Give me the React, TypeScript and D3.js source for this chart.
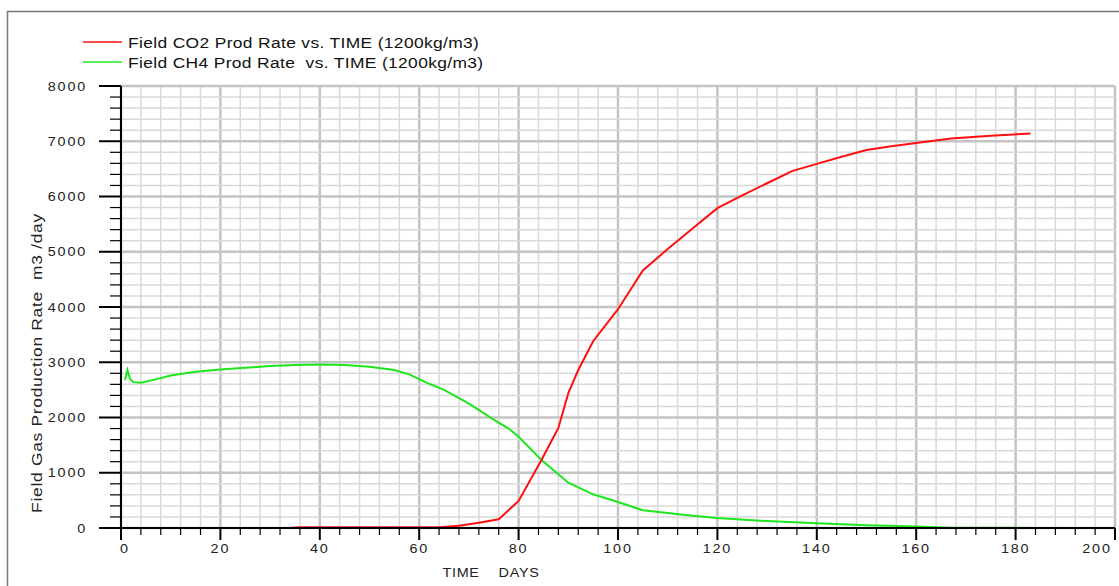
import React from 'react'
import { scaleLinear, line, range } from 'd3'

// CO2 production rate (red)
const co2Days = [1, 34, 36, 64, 68, 72, 76, 80, 84.6, 88, 90, 92, 95, 100, 105, 110, 115, 120, 125, 130, 135, 140, 145, 150, 155, 160, 167, 175, 183]
const co2Rate = [0, 0, 12, 12, 40, 96, 157, 490, 1230, 1810, 2440, 2860, 3380, 3960, 4660, 5050, 5420, 5790, 6020, 6240, 6460, 6590, 6720, 6840, 6910, 6970, 7050, 7100, 7140]

// CH4 production rate (green)
const ch4Days = [0.8, 1.3, 1.8, 2.5, 4, 7, 10, 15, 20, 25, 30, 35, 40, 45, 50, 55, 58, 62, 65, 70, 75, 78, 80, 84.6, 90, 95, 100, 105, 110, 115, 120, 130, 140, 150, 160, 167, 175, 183]
const ch4Rate = [2680, 2860, 2700, 2640, 2630, 2690, 2760, 2830, 2870, 2900, 2930, 2950, 2960, 2950, 2920, 2860, 2780, 2610, 2500, 2250, 1960, 1800, 1650, 1230, 820, 610, 470, 320, 270, 220, 180, 125, 85, 50, 25, 5, 3, 2]

const xTicks = [0, 20, 40, 60, 80, 100, 120, 140, 160, 180, 200]
const yTicks = [0, 1000, 2000, 3000, 4000, 5000, 6000, 7000, 8000]

const legendLabels = [
  'Field CO2 Prod Rate vs. TIME (1200kg/m3)',
  'Field CH4 Prod Rate  vs. TIME (1200kg/m3)',
]
const seriesColors = ['#ff1010', '#1ee61e']

const W = 1119, H = 586
const plot = { left: 121, right: 1115, top: 86, bottom: 528 }
const FONT = '"Liberation Sans", Arial, sans-serif'
const SX = 1.2 // old plotter fonts are wide, stretch horizontally

export default function App() {
  const x = scaleLinear().domain([0, 200]).range([plot.left, plot.right])
  const y = scaleLinear().domain([0, 8000]).range([plot.bottom, plot.top])

  const xMinor = range(0, 201, 4)
  const yMinor = range(0, 8001, 200)

  const gen = line<[number, number]>().x(d => x(d[0])).y(d => y(d[1]))
  const co2Path = gen(co2Days.map((d, i) => [d, co2Rate[i]]))
  const ch4Path = gen(ch4Days.map((d, i) => [d, ch4Rate[i]]))

  const pre = { whiteSpace: 'pre' as const }

  return (
    <svg width={W} height={H} style={{ position: 'absolute', left: 0, top: 0, background: '#fff' }} fontFamily={FONT}>
      {/* outer frame */}
      <path d={`M7.5,${H} V11.5 H${W}`} fill="none" stroke="#7a7a7a" strokeWidth={1.5} />

      {/* legend */}
      {legendLabels.map((t, i) => (
        <g key={t} transform={`translate(0,${42 + i * 20})`}>
          <line x1={83} x2={122} y1={0} y2={0} stroke={seriesColors[i]} strokeWidth={1.5} />
          <text transform={`translate(128,5.5) scale(${SX},1)`} fontSize={14.5} letterSpacing={0.3} fill="#111" style={pre}>{t}</text>
        </g>
      ))}

      {/* grid */}
      {xMinor.map(v => (
        <line key={'gx' + v} x1={x(v)} x2={x(v)} y1={plot.top} y2={plot.bottom}
          stroke={v % 20 === 0 ? '#c4c4c4' : '#d9d9d9'} strokeWidth={v % 20 === 0 ? 2.5 : 1.5} />
      ))}
      {yMinor.map(v => (
        <line key={'gy' + v} x1={plot.left} x2={plot.right} y1={y(v)} y2={y(v)}
          stroke={v % 1000 === 0 ? '#c4c4c4' : '#d9d9d9'} strokeWidth={v % 1000 === 0 ? 2.5 : 1.5} />
      ))}

      {/* series */}
      <path d={ch4Path ?? ''} fill="none" stroke={seriesColors[1]} strokeWidth={2} />
      <path d={co2Path ?? ''} fill="none" stroke={seriesColors[0]} strokeWidth={2} />

      {/* axes */}
      <line x1={plot.left} x2={plot.left} y1={plot.top} y2={plot.bottom + 12} stroke="#000" strokeWidth={2} />
      <line x1={99} x2={plot.right} y1={plot.bottom} y2={plot.bottom} stroke="#000" strokeWidth={2} />
      {yMinor.map(v => (
        <line key={'ty' + v} x1={v % 1000 === 0 ? 99 : 110} x2={plot.left} y1={y(v)} y2={y(v)} stroke="#000" strokeWidth={v % 1000 === 0 ? 2 : 1.2} />
      ))}
      {xMinor.map(v => (
        <line key={'tx' + v} x1={x(v)} x2={x(v)} y1={plot.bottom} y2={plot.bottom + (v % 20 === 0 ? 12 : 7)} stroke="#000" strokeWidth={v % 20 === 0 ? 2 : 1.2} />
      ))}
      {yTicks.map(v => (
        <text key={'ly' + v} transform={`translate(87,${y(v) + 4.5}) scale(${SX},1)`} textAnchor="end" fontSize={12} letterSpacing={1.5} fill="#222">{v}</text>
      ))}
      {xTicks.map(v => {
        const dx = v === 0 ? 4 : v === 200 ? -18 : 0
        return (
          <text key={'lx' + v} transform={`translate(${x(v) + dx},${plot.bottom + 25}) scale(${SX},1)`} textAnchor="middle" fontSize={12} letterSpacing={1.5} fill="#222">{v}</text>
        )
      })}

      {/* axis titles */}
      <text transform={`translate(491,577) scale(${SX},1)`} textAnchor="middle" fontSize={12} letterSpacing={0.6} fill="#222" style={pre}>TIME    DAYS</text>
      <text transform={`translate(42,363) rotate(-90) scale(${SX},1)`} textAnchor="middle" fontSize={14.5} letterSpacing={0.6} fill="#222" style={pre}>Field Gas Production Rate  m3 /day</text>
    </svg>
  )
}
